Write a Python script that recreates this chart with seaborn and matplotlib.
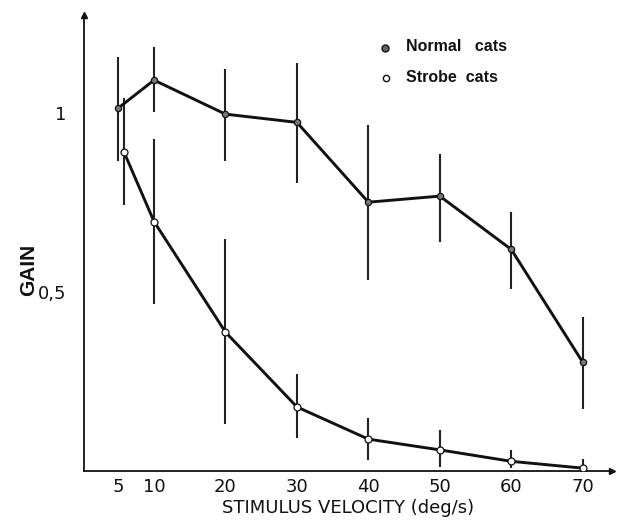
import matplotlib
matplotlib.use("Agg")
import matplotlib.pyplot as plt
import seaborn as sns
import pandas as pd
import numpy as np

# ---- data ----
velocity = [5, 10, 20, 30, 40, 50, 60, 70]
strobe_velocity = [5.8, 10, 20, 30, 40, 50, 60, 70]
normal_gain = [1.014, 1.092, 0.997, 0.974, 0.751, 0.768, 0.619, 0.304]
normal_lo = [0.867, 1.003, 0.867, 0.806, 0.535, 0.640, 0.508, 0.172]
normal_hi = [1.156, 1.184, 1.124, 1.140, 0.967, 0.886, 0.723, 0.429]
strobe_gain = [0.891, 0.697, 0.388, 0.179, 0.089, 0.059, 0.027, 0.008]
strobe_lo = [0.743, 0.466, 0.131, 0.091, 0.031, 0.010, 0.008, 0.000]
strobe_hi = [1.042, 0.927, 0.647, 0.272, 0.149, 0.114, 0.058, 0.033]
x_ticks = [5, 10, 20, 30, 40, 50, 60, 70]
y_ticks = [0.5, 1.0]
y_tick_labels = ["0,5", "1"]
series_names = ["Normal cats", "Strobe cats"]

sns.set_style("white")
plt.rcParams['font.family'] = ['DejaVu Sans']

fig = plt.figure(figsize=(6.17, 5.27), dpi=100)
ax = fig.add_axes([84/617, 56/527, (612-84)/617, (471-15)/527])

df_n = pd.DataFrame({"v": velocity, "g": normal_gain})
df_s = pd.DataFrame({"v": strobe_velocity, "g": strobe_gain})

# error bars
ax.vlines(velocity, normal_lo, normal_hi, color="#222222", lw=1.5, zorder=2)
ax.vlines(strobe_velocity, strobe_lo, strobe_hi, color="#222222", lw=1.5, zorder=2)

sns.lineplot(data=df_n, x="v", y="g", ax=ax, color="#111111", lw=2.1,
             marker="o", markersize=4.5, markerfacecolor="#777777",
             markeredgecolor="#111111", markeredgewidth=0.9, zorder=3)
sns.lineplot(data=df_s, x="v", y="g", ax=ax, color="#111111", lw=2.1,
             marker="o", markersize=5, markerfacecolor="white",
             markeredgecolor="#111111", markeredgewidth=0.9, zorder=3)

ax.set_xlim(0.2, 74.1)
ax.set_ylim(0, 1.274)

for s in ["top", "right"]:
    ax.spines[s].set_visible(False)
for s in ["left", "bottom"]:
    ax.spines[s].set_color("#111111")
    ax.spines[s].set_linewidth(1.3)

# arrowheads
ax.plot(1, 0, marker=">", color="#111111", markersize=5,
        transform=ax.transAxes, clip_on=False)
ax.plot(0, 1, marker="^", color="#111111", markersize=5,
        transform=ax.transAxes, clip_on=False)

ax.set_xticks(x_ticks)
ax.set_xticklabels([str(t) for t in x_ticks], fontsize=13, family="DejaVu Sans")
ax.set_yticks(y_ticks)
ax.set_yticklabels(y_tick_labels, fontsize=13, family="DejaVu Sans")
ax.tick_params(axis="both", direction="out", length=3, width=1.0, color="#111111",
               labelcolor="#111111", pad=2)
ax.tick_params(axis="y", pad=10)

ax.set_xlabel("STIMULUS VELOCITY (deg/s)", fontsize=13, color="#111111", labelpad=2)
ax.set_ylabel("GAIN", fontsize=15, fontweight="bold", color="#111111",
              family="Liberation Sans")
ax.yaxis.set_label_coords(-46/528, 0.44)

# legend (manual, as in the figure)
ax.plot(42.3, 1.183, marker="o", markersize=5, markerfacecolor="#666666",
        markeredgecolor="#111111", ls="none", clip_on=False)
ax.plot(42.5, 1.098, marker="o", markersize=4.5, markerfacecolor="white",
        markeredgecolor="#111111", ls="none", clip_on=False)
ax.text(45.3, 1.185, "Normal   cats", fontsize=11.5, fontweight="bold",
        family="Liberation Sans", va="center", color="#111111")
ax.text(45.3, 1.100, "Strobe  cats", fontsize=11.5, fontweight="bold",
        family="Liberation Sans", va="center", color="#111111")

fig.savefig("out.png", dpi=100)
